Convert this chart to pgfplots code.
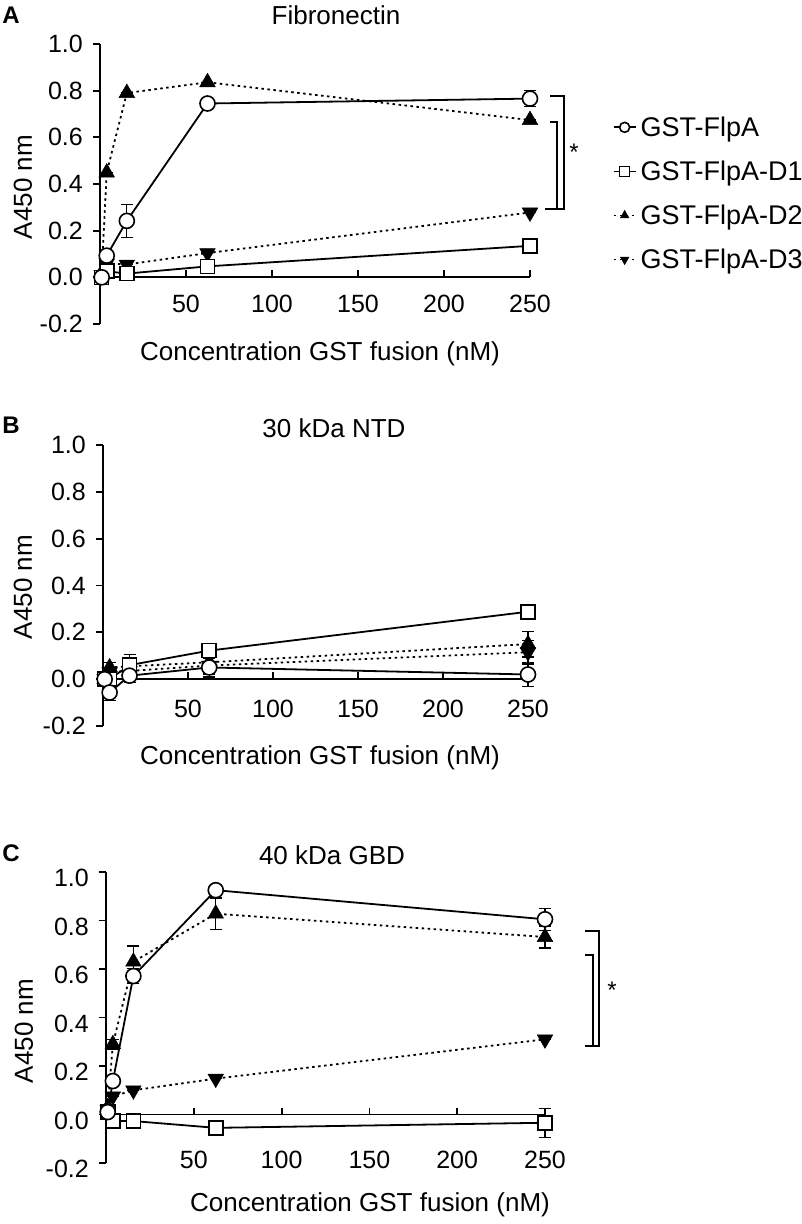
\documentclass[border=0pt]{standalone}
\usepackage{fontspec}
\setmainfont{Liberation Sans}
\usepackage{pgfplots}
\pgfplotsset{compat=1.18}
\newcommand{\fs}[1]{\fontsize{#1}{#1}\selectfont}
\pgfplotsset{
  panel/.style={
    scale only axis,
    axis y line=left, axis x line=middle,
    axis line style={-, line width=1.8pt},
    xmin=0, xmax=250, ymin=-0.2, ymax=1.0,
    xtick={50,100,150,200,250},
    xticklabels={50,100,150,200,250},
    ytick={-0.2,0,0.2,0.4,0.6,0.8,1.0},
    yticklabels={-0.2,0.0,0.2,0.4,0.6,0.8,1.0},
    major tick length=7pt,
    tick style={line width=1.8pt, black},
    xtick align=inside, ytick align=outside,
    tick label style={font=\fs{25}},
    xticklabel style={anchor=center},
    yticklabel style={anchor=east, inner sep=0pt, xshift=-10pt},
    clip=false,
    every axis plot/.append style={line width=1.8pt, black},
    every axis plot post/.append style={
      error bars/.cd, y dir=both, y explicit,
      error bar style={line width=1.2pt, black, solid},
      error mark options={rotate=90, mark size=6pt, line width=1.2pt, black, solid}},
    legend image code/.code={\draw[mark repeat=2, mark phase=2, #1, mark size=5pt]
       plot coordinates {(0pt,0pt) (11pt,0pt) (22pt,0pt)};},
  },
  sF/.style={solid, mark=*, mark size=7.5pt, mark options={fill=white, solid, line width=1.6pt}},
  sD1/.style={solid, mark=square*, mark size=7pt, mark options={fill=white, solid, line width=1.6pt}},
  sD2/.style={dash pattern=on 2.5pt off 3.5pt, mark=triangle*, mark size=9pt, mark options={fill=black, solid, line width=0.5pt}},
  sD3/.style={dash pattern=on 2.5pt off 3.5pt, mark=triangle*, mark size=9pt, mark options={fill=black, solid, rotate=180, line width=0.5pt}},
}
\begin{document}
\begin{tikzpicture}
\path[use as bounding box] (0,0) rectangle (802pt,-1224pt);
% ---------------- Panel A
\begin{axis}[panel, at={(100pt,-324pt)}, anchor=south west, width=430pt, height=280pt,
  xticklabel style={yshift=-26.5pt},
  legend style={at={(axis description cs:1.192,0.755)}, anchor=north west, draw=none, fill=none,
     font=\fs{27}, row sep=15pt, inner sep=0pt, nodes={inner sep=4pt}},
  legend cell align=left]
\addplot[sD3, forget plot] table[x=x,y=y,y error=e] {
x y e
0.98 0.01 0
3.9 0.06 0
15.6 0.055 0
62.5 0.104 0
250 0.278 0
};
\addplot[sD2, forget plot] table[x=x,y=y,y error=e] {
x y e
0.98 0.02 0
3.9 0.449 0
15.6 0.79 0
62.5 0.836 0
250 0.674 0
};
\addplot[sD1, forget plot] table[x=x,y=y,y error=e] {
x y e
0.98 0.0 0
3.9 0.026 0
15.6 0.016 0
62.5 0.047 0
250 0.135 0
};
\addplot[sF, forget plot] table[x=x,y=y,y error=e] {
x y e
0.98 0.0 0
3.9 0.093 0.02
15.6 0.242 0.07
62.5 0.745 0
250 0.766 0.035
};
\addlegendimage{sF}\addlegendentry{GST-FlpA}
\addlegendimage{sD1}\addlegendentry{GST-FlpA-D1}
\addlegendimage{sD2}\addlegendentry{GST-FlpA-D2}
\addlegendimage{sD3}\addlegendentry{GST-FlpA-D3}
\end{axis}
% ---------------- Panel B
\begin{axis}[panel, at={(103pt,-726pt)}, anchor=south west, width=425pt, height=281pt,
  xticklabel style={yshift=-29.5pt}]
\addplot[sD3] table[x=x,y=y,y error=e] {
x y e
0.98 0.0 0
3.9 0.03 0.02
15.6 0.035 0.04
62.5 0.058 0.05
250 0.115 0.05
};
\addplot[sD2] table[x=x,y=y,y error=e] {
x y e
0.98 0.0 0
3.9 0.05 0.02
15.6 0.055 0.05
62.5 0.072 0.05
250 0.15 0.055
};
\addplot[sD1] table[x=x,y=y,y error=e] {
x y e
0.98 0.0 0
3.9 0.0 0
15.6 0.06 0.03
62.5 0.122 0.02
250 0.288 0
};
\addplot[sF] table[x=x,y=y,y error=e] {
x y e
0.98 0.0 0
3.9 -0.057 0.035
15.6 0.015 0.03
62.5 0.05 0.04
250 0.02 0.05
};
\end{axis}
% ---------------- Panel C
\begin{axis}[panel, at={(106pt,-1163pt)}, anchor=south west, width=439pt, height=291pt,
  xticklabel style={yshift=-45.5pt}, yticklabel style={yshift=-6pt}]
\addplot[sD3] table[x=x,y=y,y error=e] {
x y e
0.98 0.02 0
3.9 0.075 0
15.6 0.10 0
62.5 0.148 0
250 0.31 0
};
\addplot[sD2] table[x=x,y=y,y error=e] {
x y e
0.98 0.03 0
3.9 0.29 0.02
15.6 0.63 0.065
62.5 0.828 0.065
250 0.732 0.045
};
\addplot[sD1] table[x=x,y=y,y error=e] {
x y e
0.98 0.01 0
3.9 -0.027 0
15.6 -0.027 0.03
62.5 -0.055 0.03
250 -0.034 0.06
};
\addplot[sF] table[x=x,y=y,y error=e] {
x y e
0.98 0.01 0
3.9 0.138 0
15.6 0.571 0.03
62.5 0.925 0
250 0.805 0.045
};
\end{axis}
% ---------------- texts
\node[font=\fs{24}\bfseries] at (11pt,-15pt) {A};
\node[font=\fs{24}\bfseries] at (11pt,-425pt) {B};
\node[font=\fs{24}\bfseries] at (11pt,-853pt) {C};
\node[font=\fs{26}] at (336pt,-15pt) {Fibronectin};
\node[font=\fs{26}] at (334pt,-428pt) {30 kDa NTD};
\node[font=\fs{26}] at (332pt,-855pt) {40 kDa GBD};
\node[font=\fs{26}] at (320pt,-354pt) {Concentration GST fusion (nM)};
\node[font=\fs{26}] at (320pt,-758pt) {Concentration GST fusion (nM)};
\node[font=\fs{26}] at (370pt,-1205pt) {Concentration GST fusion (nM)};
\node[font=\fs{26}, rotate=90] at (23pt,-187pt) {A450 nm};
\node[font=\fs{26}, rotate=90] at (23pt,-587pt) {A450 nm};
\node[font=\fs{26}, rotate=90] at (24pt,-1031pt) {A450 nm};
% brackets
\draw[line width=1.5pt] (550pt,-96pt) -- (564pt,-96pt) -- (564pt,-209pt) -- (545pt,-209pt);
\draw[line width=1.5pt] (550pt,-122pt) -- (557pt,-122pt) -- (557pt,-209pt);
\node[font=\fs{24}] at (574pt,-152pt) {*};
\draw[line width=1.5pt] (585pt,-931pt) -- (599pt,-931pt) -- (599pt,-1046pt) -- (585pt,-1046pt);
\draw[line width=1.5pt] (585pt,-955pt) -- (593pt,-955pt) -- (593pt,-1046pt);
\node[font=\fs{24}] at (612pt,-990pt) {*};
\end{tikzpicture}
\end{document}
